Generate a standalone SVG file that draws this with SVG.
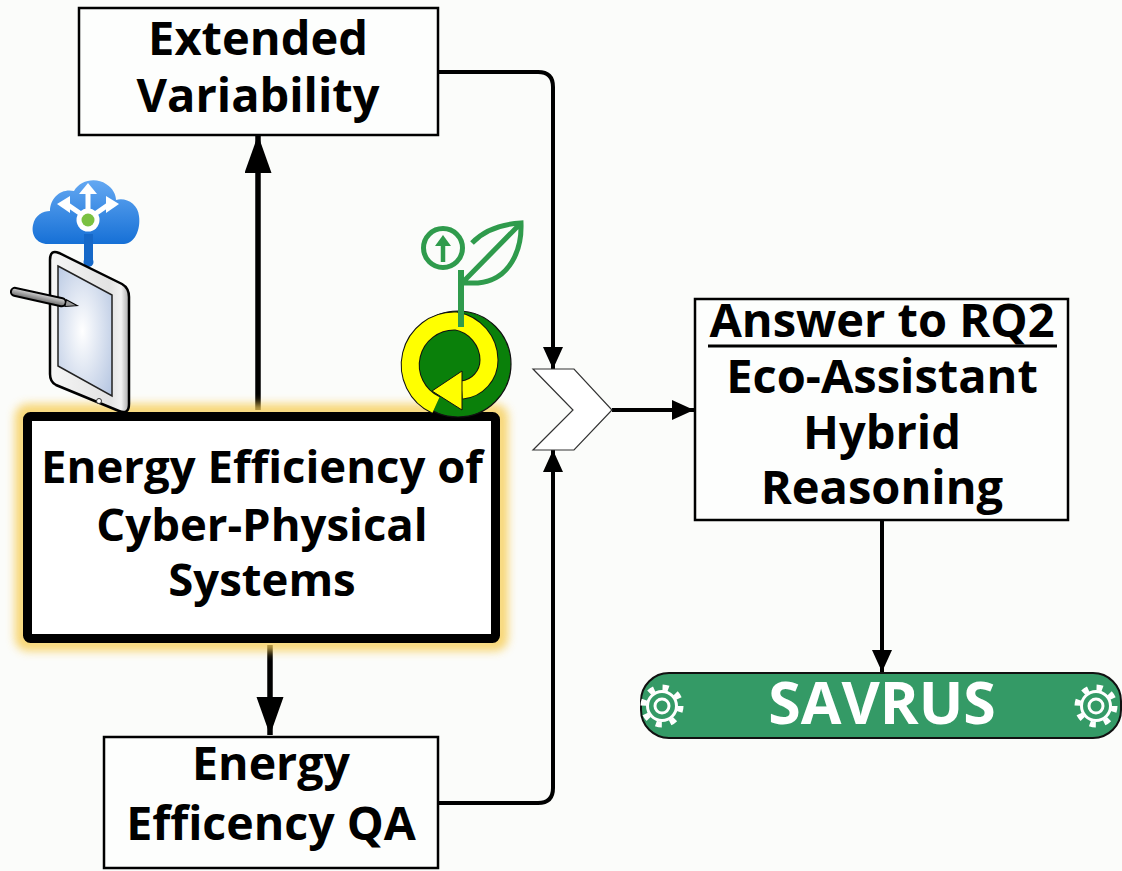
<svg xmlns="http://www.w3.org/2000/svg" width="1122" height="871" viewBox="0 0 1122 871">
  <style>
    .lbl { font-family: "Open Sans", "Liberation Sans", sans-serif; font-weight: 700; fill: #000; text-anchor: middle; }
    .box { fill: #fdfefd; stroke: #000; stroke-width: 2.5; }
    .conn { fill: none; stroke: #000; }
    .plant { fill: none; stroke: #2f9b4c; stroke-width: 5; stroke-linecap: butt; }
  </style>
  <defs>
    <marker id="headBig" markerUnits="userSpaceOnUse" markerWidth="40" markerHeight="28" refX="38" refY="13.5" orient="auto">
      <path d="M0,0 L38,13.5 L0,27 z" fill="#000"/>
    </marker>
    <marker id="headSmall" markerUnits="userSpaceOnUse" markerWidth="24" markerHeight="22" refX="22" refY="10" orient="auto">
      <path d="M0,0 L22,10 L0,20 z" fill="#000"/>
    </marker>
    <filter id="glow" x="-20%" y="-20%" width="140%" height="140%">
      <feGaussianBlur stdDeviation="5"/>
    </filter>
    <linearGradient id="cloudFill" x1="0" y1="0" x2="0" y2="1">
      <stop offset="0" stop-color="#64a8f2"/>
      <stop offset="1" stop-color="#1670d6"/>
    </linearGradient>
    <linearGradient id="frameFill" x1="0" y1="0" x2="1" y2="0">
      <stop offset="0" stop-color="#f6f6f6"/>
      <stop offset="0.75" stop-color="#e2e2e2"/>
      <stop offset="0.9" stop-color="#f2f2f2"/>
      <stop offset="1" stop-color="#a8a8a8"/>
    </linearGradient>
    <radialGradient id="screenFill" cx="0.45" cy="0.5" r="0.7">
      <stop offset="0" stop-color="#ffffff"/>
      <stop offset="1" stop-color="#b7c7e2"/>
    </radialGradient>
    <linearGradient id="penFill" x1="0" y1="0" x2="0" y2="1">
      <stop offset="0" stop-color="#d8d8d8"/>
      <stop offset="1" stop-color="#6a6a6a"/>
    </linearGradient>
    <g id="gear">
      <circle r="18.5" fill="none" stroke="#fff" stroke-width="6" stroke-dasharray="6 8.53"/>
      <circle r="14.5" fill="none" stroke="#fff" stroke-width="3"/>
      <circle r="7" fill="none" stroke="#fff" stroke-width="3"/>
    </g>
  </defs>

  <rect width="1122" height="871" fill="#fbfcfa"/>

  <!-- connectors -->
  <g id="connectors">
    <path class="conn" stroke-width="5.5" d="M258,410 V135" marker-end="url(#headBig)"/>
    <path class="conn" stroke-width="5.5" d="M270,645 V735" marker-end="url(#headBig)"/>
    <path class="conn" stroke-width="4" d="M438,72 H538 Q553,72 553,87 V369" marker-end="url(#headSmall)"/>
    <path class="conn" stroke-width="4" d="M438,803 H538 Q553,803 553,788 V450" marker-end="url(#headSmall)"/>
    <path class="conn" stroke-width="4" d="M612,410 H694" marker-end="url(#headSmall)"/>
    <path class="conn" stroke-width="4" d="M882,520 V672" marker-end="url(#headSmall)"/>
  </g>

  <!-- extended variability -->
  <g id="extended-variability">
    <rect class="box" x="79" y="8" width="359" height="127"/>
    <text class="lbl" x="258" y="55" font-size="47">Extended</text>
    <text class="lbl" x="258" y="112" font-size="47">Variability</text>
  </g>

  <!-- energy efficiency of CPS (central node) -->
  <g id="energy-efficiency-cps">
    <rect x="22" y="411" width="479" height="233" rx="6" fill="none" stroke="#f7cf5a" stroke-width="14" opacity="0.85" filter="url(#glow)"/>
    <rect x="27.5" y="416.5" width="468" height="222" rx="3" fill="#fff" stroke="#000" stroke-width="9"/>
    <text class="lbl" x="262" y="483" font-size="45.5">Energy Efficiency of</text>
    <text class="lbl" x="262" y="541" font-size="45.5">Cyber-Physical</text>
    <text class="lbl" x="262" y="596" font-size="45.5">Systems</text>
  </g>

  <!-- energy efficiency quality attribute -->
  <g id="energy-efficiency-qa">
    <rect class="box" x="104" y="737" width="334" height="131"/>
    <text class="lbl" x="271" y="780" font-size="46.5">Energy</text>
    <text class="lbl" x="271" y="840" font-size="46.5">Efficency QA</text>
  </g>

  <!-- merge chevron -->
  <g id="merge">
    <polygon points="533,369 574,369 612,410 574,450 533,450 573,410" fill="#fff" stroke="#333" stroke-width="1.2"/>
  </g>

  <!-- answer node -->
  <g id="answer-rq2">
    <rect class="box" x="695" y="299" width="373" height="221"/>
    <text class="lbl" x="882" y="337" font-size="47">Answer to RQ2</text>
    <line x1="708" y1="346" x2="1057" y2="346" stroke="#000" stroke-width="3"/>
    <text class="lbl" x="882" y="393" font-size="47">Eco-Assistant</text>
    <text class="lbl" x="882" y="449" font-size="47">Hybrid</text>
    <text class="lbl" x="882" y="504" font-size="47">Reasoning</text>
  </g>

  <!-- SAVRUS banner -->
  <g id="savrus">
    <rect x="641" y="673" width="480" height="65" rx="28" fill="#349a66" stroke="#111" stroke-width="2"/>
    <use href="#gear" x="662" y="706"/>
    <use href="#gear" x="1096" y="706"/>
    <text class="lbl" x="882" y="724" font-size="59" style="fill:#fff">SAVRUS</text>
  </g>

  <!-- cloud + tablet icon -->
  <g id="icon-tablet">
    <path d="M48,244 C36,244 31,234 33,225 C35,215 43,211 50,211 C50,197 62,188 74,191 C80,180 96,177 106,184 C113,188 116,195 116,200 C126,197 138,204 139,216 C141,230 134,244 124,244 Z" fill="url(#cloudFill)"/>
    <rect x="84" y="234" width="9" height="28" fill="#1668c8"/>
    <circle cx="88.5" cy="262" r="5" fill="#1668c8"/>
    <path d="M88,212 V190 M81,214 L68,205 M95,214 L108,205" stroke="#fff" stroke-width="5" fill="none"/>
    <polygon points="79,194 88,183 97,194" fill="#fff"/>
    <polygon points="70,196 57,204 70,213" fill="#fff"/>
    <polygon points="106,196 119,204 106,213" fill="#fff"/>
    <circle cx="88" cy="220" r="11.5" fill="#fff"/>
    <circle cx="88" cy="220" r="6.5" fill="#7ac143"/>
    <path d="M50,260 Q50,249 59,253 L122,284 Q129,288 129,297 L129,404 Q129,415 119,411 L56,385 Q50,382 50,374 Z" fill="url(#frameFill)" stroke="#000" stroke-width="2.5"/>
    <polygon points="58,266 112,295 112,396 58,366" fill="url(#screenFill)" stroke="#222" stroke-width="1.5"/>
    <circle cx="99" cy="401" r="2.5" fill="#fff" stroke="#333" stroke-width="1"/>
    <g transform="translate(11,291) rotate(12.5)">
      <rect x="0" y="-4" width="56" height="8" rx="4" fill="url(#penFill)" stroke="#000" stroke-width="2"/>
      <polygon points="56,-3.5 68,0 56,3.5" fill="#999" stroke="#000" stroke-width="1"/>
    </g>
  </g>

  <!-- green dot + sprout icon -->
  <g id="icon-green">
    <circle cx="458" cy="364" r="53" fill="#0a800a" stroke="#111" stroke-width="1.2"/>
    <path d="M436,405 A44,44 0 0 1 456,321 A40,40 0 0 1 489,360 A30,30 0 0 1 462,390" fill="none" stroke="#111" stroke-width="19"/>
    <path d="M436,405 A44,44 0 0 1 456,321 A40,40 0 0 1 489,360 A30,30 0 0 1 462,390" fill="none" stroke="#ffff00" stroke-width="17"/>
    <polygon points="432,391 462,371 462,410" fill="#ffff00" stroke="#111" stroke-width="1"/>
    <line x1="461" y1="270" x2="461" y2="327" stroke="#2f9b4c" stroke-width="6"/>
    <circle class="plant" cx="443" cy="248" r="19.5"/>
    <line x1="443" y1="262" x2="443" y2="243" stroke="#2f9b4c" stroke-width="4.5"/>
    <polygon points="435,246 443,235 451,246" fill="#2f9b4c"/>
    <path class="plant" d="M472,243 C486,228 505,224 521,223 C522,250 510,280 478,283 L462,283 M462,283 L519,225"/>
  </g>
</svg>
